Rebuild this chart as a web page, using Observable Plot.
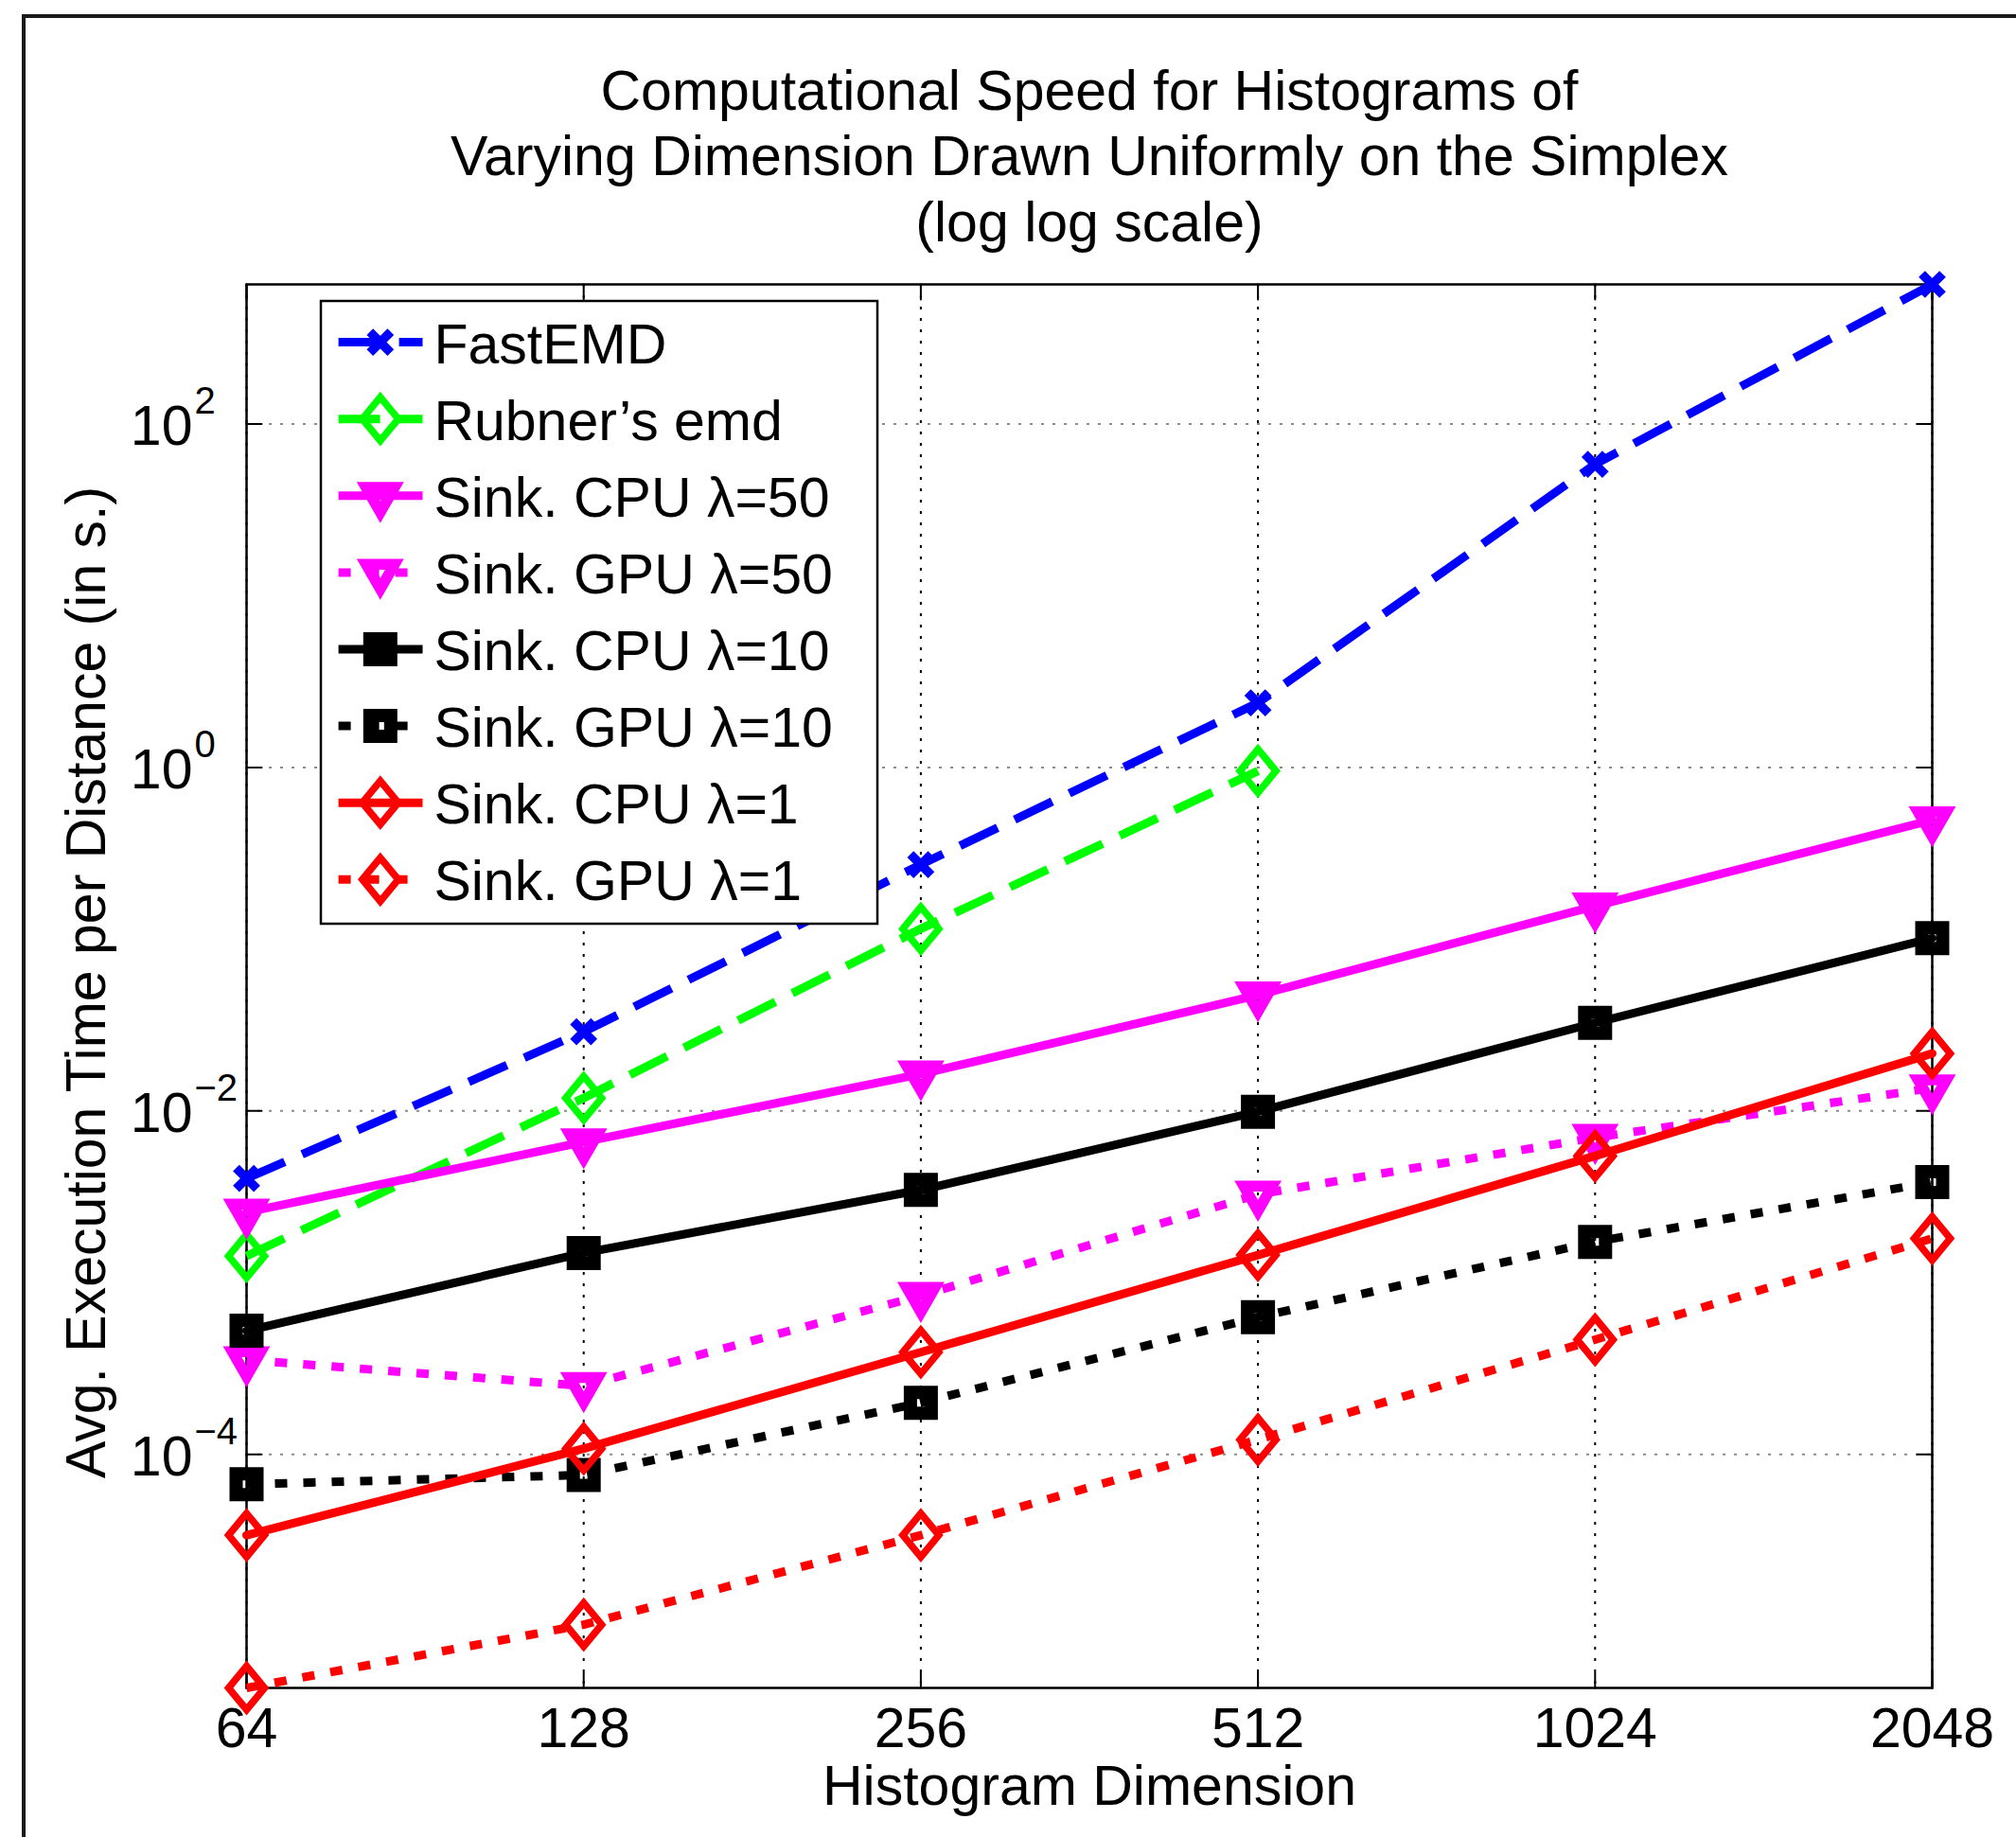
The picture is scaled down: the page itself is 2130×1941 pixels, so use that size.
<!DOCTYPE html>
<html><head><meta charset="utf-8">
<script src="https://cdn.jsdelivr.net/npm/d3@7"></script>
<script src="https://cdn.jsdelivr.net/npm/@observablehq/plot@0.6"></script>
<style>
html,body{margin:0;padding:0;background:#fff;}
#wrap{position:relative;width:2130px;height:1941px;overflow:hidden;background:#fff;}
#frame{position:absolute;left:23px;top:15px;width:3000px;height:3000px;border-top:4px solid #1a1a1a;border-left:4px solid #1a1a1a;z-index:2;pointer-events:none;}
#chart{position:absolute;left:0;top:0;width:2130px;height:1941px;z-index:1;}
</style></head>
<body><div id="wrap"><div id="chart"></div><div id="frame"></div></div>
<script>
// ---- data ----
const dims = [64, 128, 256, 512, 1024, 2048];
const xTickLabels = ["64", "128", "256", "512", "1024", "2048"];
const yTicks = [1e-4, 1e-2, 1, 100];
const yTickBase = "10";
const yTickExponents = ["\u22124", "\u22122", "0", "2"];
const seriesNames = ["FastEMD", "Rubner\u2019s emd", "Sink. CPU \u03bb=50", "Sink. GPU \u03bb=50",
  "Sink. CPU \u03bb=10", "Sink. GPU \u03bb=10", "Sink. CPU \u03bb=1", "Sink. GPU \u03bb=1"];
const fastEMD   = [0.00405, 0.0289, 0.272, 2.38, 58.3, 650];
const rubnerEmd = [0.00143, 0.0119, 0.115, 0.955, null, null];
const sinkCpu50 = [0.00257, 0.0066, 0.0164, 0.0473, 0.156, 0.495];
const sinkGpu50 = [3.55e-4, 2.51e-4, 8.4e-4, 3.27e-3, 7.0e-3, 1.36e-2];
const sinkCpu10 = [5.25e-4, 1.49e-3, 3.47e-3, 9.9e-3, 3.26e-2, 0.1014];
const sinkGpu10 = [6.7e-5, 7.6e-5, 2.0e-4, 6.3e-4, 1.73e-3, 3.85e-3];
const sinkCpu1  = [3.39e-5, 1.08e-4, 3.94e-4, 1.45e-3, 5.47e-3, 2.16e-2];
const sinkGpu1  = [4.37e-6, 1.02e-5, 3.39e-5, 1.22e-4, 4.66e-4, 1.81e-3];
const titleLines = ["Computational Speed for Histograms of", "Varying Dimension Drawn Uniformly on the Simplex", "(log log scale)"];
const xLabel = "Histogram Dimension";
const yLabel = "Avg. Execution Time per Distance (in s.)";

// ---- styles ----
const FONT = "Liberation Sans, Arial, Helvetica, sans-serif";
const FS = 59;
const LW = 9;
const DASH = "44,20";
const DOT = "13,17";
const shapes = {
  x: {draw(c) { c.moveTo(-11, -11); c.lineTo(11, 11); c.moveTo(-11, 11); c.lineTo(11, -11); }},
  diamond: {draw(c) { c.moveTo(0, -23); c.lineTo(19, 0); c.lineTo(0, 23); c.lineTo(-19, 0); c.closePath(); }},
  triangle: {draw(c) { c.moveTo(-15, -8.7); c.lineTo(15, -8.7); c.lineTo(0, 17.4); c.closePath(); }},
  square: {draw(c) { c.moveTo(-11, -11); c.lineTo(11, -11); c.lineTo(11, 11); c.lineTo(-11, 11); c.closePath(); }}
};
const markerStroke = {x: 9.5, diamond: 7.5, triangle: 11.5, square: 14};
const styles = [
  {color: "#0000ff", dash: DASH, marker: "x"},
  {color: "#00ff00", dash: DASH, marker: "diamond"},
  {color: "#ff00ff", dash: null, marker: "triangle"},
  {color: "#ff00ff", dash: DOT, marker: "triangle"},
  {color: "#000000", dash: null, marker: "square"},
  {color: "#000000", dash: DOT, marker: "square"},
  {color: "#ff0000", dash: null, marker: "diamond"},
  {color: "#ff0000", dash: DOT, marker: "diamond"}
];
const seriesValues = [fastEMD, rubnerEmd, sinkCpu50, sinkGpu50, sinkCpu10, sinkGpu10, sinkCpu1, sinkGpu1];
const rows = seriesNames.flatMap((name, i) => dims.map((dim, j) => ({name, dim, value: seriesValues[i][j]})))
  .filter(d => d.value != null);

const tickShape = {draw(c, l) { c.moveTo(0, 0); c.lineTo(0, -l); }};
const tickOpts = {length: 16, anchor: "start", shape: tickShape, stroke: "black", strokeWidth: 2};

const seriesMarks = seriesNames.flatMap((name, i) => {
  const st = styles[i];
  const data = rows.filter(d => d.name === name);
  return [
    Plot.line(data, {x: "dim", y: "value", stroke: st.color, strokeWidth: LW,
      strokeDasharray: st.dash ?? undefined, strokeLinecap: st.dash ? "butt" : "round", strokeLinejoin: "round"}),
    Plot.dot(data, {x: "dim", y: "value", r: 10, symbol: shapes[st.marker], fill: "none",
      stroke: st.color, strokeWidth: markerStroke[st.marker], strokeLinejoin: "miter"})
  ];
});

const chart = Plot.plot({
  width: 2130, height: 1941,
  marginLeft: 260, marginRight: 89, marginTop: 300, marginBottom: 158,
  style: {fontFamily: FONT, background: "white", color: "black", overflow: "visible"},
  x: {type: "log", domain: [64, 2048], axis: null},
  y: {type: "log", domain: d3.extent(rows, d => d.value), axis: null},
  marks: [
    Plot.ruleY(yTicks, {y: d => d, stroke: "#8a8a8a", strokeWidth: 2, strokeDasharray: "3,9"}),
    Plot.ruleX(dims, {x: d => d, stroke: "#000", strokeWidth: 2, strokeDasharray: "3,9"}),
    Plot.vector(dims, {x: d => d, frameAnchor: "bottom", rotate: 0, ...tickOpts}),
    Plot.vector(dims, {x: d => d, frameAnchor: "top", rotate: 180, ...tickOpts}),
    Plot.vector(yTicks, {y: d => d, frameAnchor: "left", rotate: 90, ...tickOpts}),
    Plot.vector(yTicks, {y: d => d, frameAnchor: "right", rotate: -90, ...tickOpts}),
    Plot.frame({stroke: "black", strokeWidth: 2.5}),
    ...seriesMarks,
    // x tick labels
    Plot.text(dims, {x: d => d, text: (d, i) => xTickLabels[i], frameAnchor: "bottom", lineAnchor: "top",
      textAnchor: "middle", dy: 21, fontSize: FS, fill: "black"}),
    // y tick labels: base and exponent
    Plot.text(yTicks, {y: d => d, text: () => yTickBase, frameAnchor: "left", textAnchor: "end",
      lineAnchor: "bottom", dx: -57, dy: 22, fontSize: FS, fill: "black"}),
    Plot.text(yTicks, {y: d => d, text: (d, i) => yTickExponents[i], frameAnchor: "left", textAnchor: "start",
      lineAnchor: "bottom", dx: -55, dy: -11, fontSize: 40, fill: "black"}),
    // title
    Plot.text([titleLines.join("\n")], {frameAnchor: "top", lineAnchor: "bottom", textAnchor: "middle", dy: -46,
      lineHeight: 1.17, fontSize: FS, fill: "black"}),
    // axis labels
    Plot.text([xLabel], {frameAnchor: "bottom", lineAnchor: "bottom", textAnchor: "middle", dy: 123,
      fontSize: FS, fill: "black"}),
    Plot.text([yLabel], {frameAnchor: "left", rotate: -90, lineAnchor: "bottom", textAnchor: "middle",
      dx: -150, dy: -4, fontSize: FS, fill: "black"})
  ]
});
document.getElementById("chart").appendChild(chart);

// ---- legend (inside the axes, top-left) ----
const svg = d3.select(chart);
const lg = svg.append("g").attr("font-family", FONT).attr("text-anchor", "start");
lg.append("rect").attr("x", 339).attr("y", 318).attr("width", 588).attr("height", 658)
  .attr("fill", "white").attr("stroke", "black").attr("stroke-width", 2.5);
seriesNames.forEach((name, i) => {
  const st = styles[i];
  const cy = 361.6 + i * 81.1;
  const ln = lg.append("line").attr("x1", 357.6).attr("x2", 446.5).attr("y1", cy).attr("y2", cy)
    .attr("stroke", st.color).attr("stroke-width", LW).attr("stroke-linecap", "butt");
  if (st.dash) ln.attr("stroke-dasharray", st.dash);
  const p = d3.path();
  shapes[st.marker].draw(p);
  lg.append("path").attr("d", p.toString()).attr("transform", `translate(401.8,${cy})`)
    .attr("fill", "none").attr("stroke", st.color).attr("stroke-width", markerStroke[st.marker])
    .attr("stroke-linejoin", "miter");
  lg.append("text").attr("x", 458.4).attr("y", cy + 22).attr("font-size", FS).attr("fill", "black")
    .attr("text-anchor", "start").text(name);
});
</script>
</body></html>
